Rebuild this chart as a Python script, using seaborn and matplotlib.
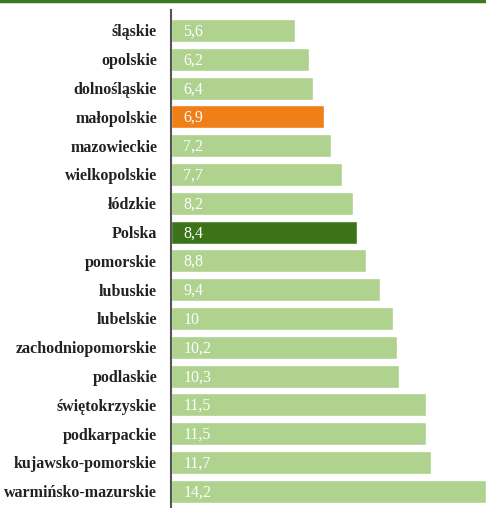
import pandas as pd
import matplotlib.pyplot as plt
import seaborn as sns

regions = [
    "śląskie", "opolskie", "dolnośląskie", "małopolskie", "mazowieckie",
    "wielkopolskie", "łódzkie", "Polska", "pomorskie", "lubuskie",
    "lubelskie", "zachodniopomorskie", "podlaskie", "świętokrzyskie",
    "podkarpackie", "kujawsko-pomorskie", "warmińsko-mazurskie",
]
values = [5.6, 6.2, 6.4, 6.9, 7.2, 7.7, 8.2, 8.4, 8.8, 9.4,
          10, 10.2, 10.3, 11.5, 11.5, 11.7, 14.2]

LIGHT = "#afd28f"
ORANGE = "#f07f18"
DARK = "#3c7318"
colors = [ORANGE if r == "małopolskie" else DARK if r == "Polska" else LIGHT
          for r in regions]

df = pd.DataFrame({"region": regions, "value": values})

sns.set_style("white")
plt.rcParams["font.family"] = ["Liberation Serif", "DejaVu Serif"]

W, H = 486, 508
fig = plt.figure(figsize=(W / 100, H / 100), dpi=100)
ax = fig.add_axes([171 / W, 0, 1 - 171 / W, (H - 10) / H])

sns.barplot(data=df, x="value", y="region", hue="region", palette=colors,
            legend=False, width=0.8, saturation=1, ax=ax)

ax.set_xlim(0, 14.2)
ax.set_ylim(16.58, -0.71)
ax.set_xlabel("")
ax.set_ylabel("")
ax.set_xticks([])
ax.tick_params(axis="y", length=0, pad=10)
for lbl in ax.get_yticklabels():
    lbl.set_fontweight("bold")
    lbl.set_fontsize(11.5)
    lbl.set_color("#222222")

for s in ["top", "right", "bottom"]:
    ax.spines[s].set_visible(False)
ax.spines["left"].set_color("#555555")
ax.spines["left"].set_linewidth(1.5)

for i, v in enumerate(values):
    ax.text(0.55, i + 0.04, f"{v:g}".replace(".", ","), color="white",
            fontsize=11.5, va="center", ha="left")

# green rule at the top
fig.add_artist(plt.Line2D([0, 1], [1 - 1 / H, 1 - 1 / H], color="#3a7a1e",
                          linewidth=2.5, transform=fig.transFigure))

fig.savefig("out.png", dpi=100)
